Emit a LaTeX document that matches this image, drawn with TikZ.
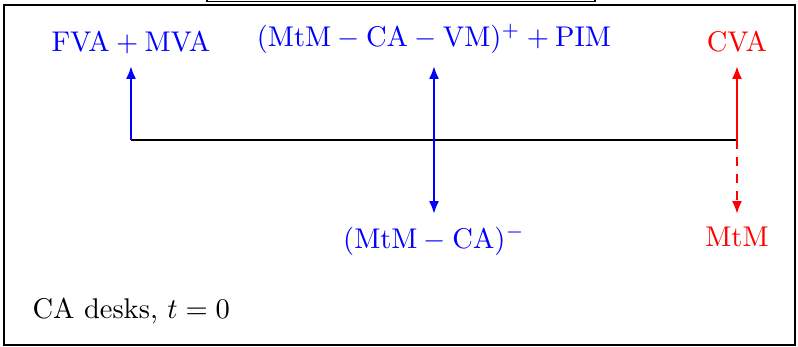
\documentclass[tikz,border=0pt]{standalone}
\usetikzlibrary{arrows.meta}
\begin{document}
\begin{tikzpicture}[x=0.3509pt,y=-0.3509pt,
  arr/.style={thick,-{Latex[length=4.5pt,width=3.5pt]}},
  lbl/.style={inner sep=0pt,anchor=base}]
\useasboundingbox (0,0) rectangle (798,347);
\draw[line width=0.4pt] (207,0) -- (207,1.5) -- (595,1.5) -- (595,0);
\draw[line width=0.6pt] (4,5) rectangle (795,345);
\coordinate (s) at (131,140);
\coordinate (m) at (434,140);
\coordinate (e) at (737,140);
\coordinate (sU) at (131,66);
\coordinate (mU) at (434,66);
\coordinate (mD) at (434,214);
\coordinate (eU) at (737,66);
\coordinate (eD) at (737,214);
\draw[thick] (s) -- (e);
\draw[arr,blue] (s) -- (sU);
\draw[arr,blue,{Latex[length=4.5pt,width=3.5pt]}-{Latex[length=4.5pt,width=3.5pt]}] (mD) -- (mU);
\draw[arr,red] (e) -- (eU);
\draw[arr,red,dashed] (e) -- (eD);
\node[lbl,blue] (fva) at (131,52) {$\mathrm{FVA}+\mathrm{MVA}$};
\node[lbl,blue] (pim) at (434,47) {$(\mathrm{MtM}-\mathrm{CA}-\mathrm{VM})^{+}+\mathrm{PIM}$};
\node[lbl,red] (cva) at (737,52) {CVA};
\node[lbl,blue] (neg) at (434,248) {$(\mathrm{MtM}-\mathrm{CA})^{-}$};
\node[lbl,red] (mtm) at (737,246) {MtM};
\node[inner sep=0pt,anchor=base west] (desk) at (32,318) {CA desks, $t=0$};
\end{tikzpicture}
\end{document}
